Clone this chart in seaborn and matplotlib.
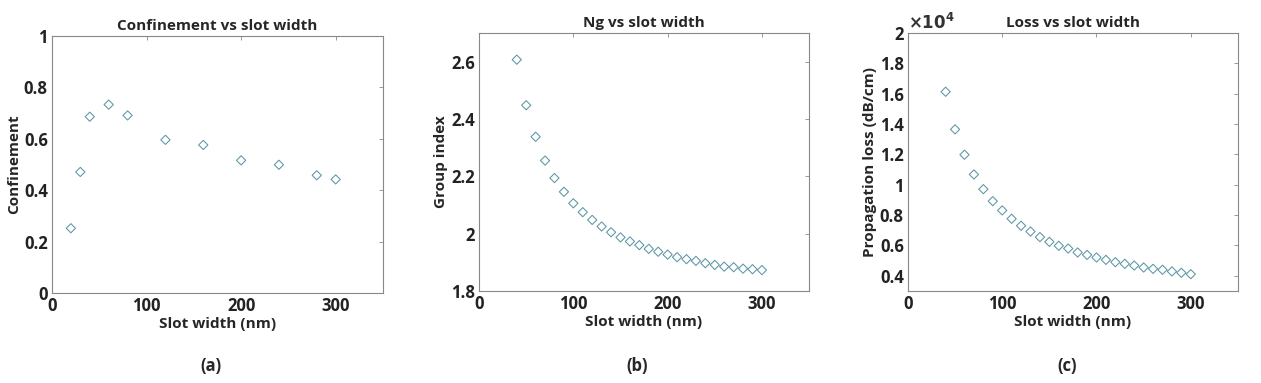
import matplotlib
matplotlib.use("Agg")
import matplotlib.pyplot as plt
import matplotlib.ticker as mticker
import seaborn as sns

# panel (a) - confinement
conf_width = [20, 30, 40, 60, 80, 120, 160, 200, 240, 280, 300]
confinement = [0.252, 0.471, 0.686, 0.733, 0.691, 0.596, 0.576, 0.516, 0.499, 0.458, 0.442]

# panels (b) and (c) share the same slot widths
slot_width = [40, 50, 60, 70, 80, 90, 100, 110, 120, 130, 140, 150, 160, 170, 180,
              190, 200, 210, 220, 230, 240, 250, 260, 270, 280, 290, 300]
group_index = [2.607, 2.448, 2.338, 2.255, 2.194, 2.146, 2.106, 2.075, 2.048, 2.025,
               2.005, 1.987, 1.973, 1.960, 1.947, 1.937, 1.927, 1.918, 1.911, 1.905,
               1.897, 1.891, 1.885, 1.883, 1.878, 1.876, 1.873]
loss = [16130, 13650, 11980, 10680, 9710, 8920, 8310, 7760, 7300, 6920, 6550, 6240,
        5980, 5800, 5540, 5380, 5210, 5050, 4900, 4790, 4680, 4550, 4460, 4400,
        4290, 4200, 4110]

sns.set_style("white")
plt.rcParams['font.family'] = ['Open Sans', 'DejaVu Sans']
plt.rcParams['font.weight'] = 'bold'
plt.rcParams['axes.labelweight'] = 'bold'
plt.rcParams['axes.titleweight'] = 'bold'

mcol = '#5a96a2'
fig = plt.figure(figsize=(12.61, 3.83), dpi=100)

panels = [
    ([0.0412, 0.235, 0.2625, 0.671], conf_width, confinement, 'Confinement vs slot width',
     'Confinement', (0, 1), [0, 0.2, 0.4, 0.6, 0.8, 1], 1, '(a)', 0.167),
    ([0.3799, 0.2402, 0.2617, 0.6736], slot_width, group_index, 'Ng vs slot width',
     'Group index', (1.8, 2.7), [1.8, 2, 2.2, 2.4, 2.6], 1, '(b)', 0.505),
    ([0.7200, 0.2402, 0.2617, 0.6736], slot_width, loss, 'Loss vs slot width',
     'Propagation loss (dB/cm)', (3000, 20000),
     [4000, 6000, 8000, 10000, 12000, 14000, 16000, 18000, 20000], 1e4, '(c)', 0.846),
]

for rect, xs, ys, title, ylab, ylim, yticks, scale, cap, capx in panels:
    ax = fig.add_axes(rect)
    sns.scatterplot(x=xs, y=ys, ax=ax, marker='D', s=22, facecolor='none',
                    edgecolor=mcol, linewidth=0.75)
    ax.set_xlim(0, 350)
    ax.set_ylim(*ylim)
    ax.set_xticks([0, 100, 200, 300])
    ax.set_yticks(yticks)
    ax.yaxis.set_major_formatter(mticker.FuncFormatter(lambda v, p, s=scale: '%g' % round(v / s, 3)))
    ax.set_title(title, fontsize=11, pad=4)
    ax.set_xlabel('Slot width (nm)', fontsize=11, labelpad=1)
    ax.set_ylabel(ylab, fontsize=11, labelpad=2)
    ax.tick_params(direction='in', length=3, width=0.6, color='#888888',
                   top=True, right=True, labelsize=12, pad=3)
    for t in ax.get_xticklabels() + ax.get_yticklabels():
        t.set_fontweight('bold')
        t.set_color('#222222')
    for sp in ax.spines.values():
        sp.set_color('#888888')
        sp.set_linewidth(0.8)
    if scale != 1:
        ax.text(0.0, 1.0, r'$\times10^4$', transform=ax.transAxes, fontsize=12,
                ha='left', va='bottom', color='#333333')
    fig.text(capx, 0.045, cap, ha='center', va='center', fontsize=12, fontweight='bold')

fig.savefig('out.png', dpi=100)
